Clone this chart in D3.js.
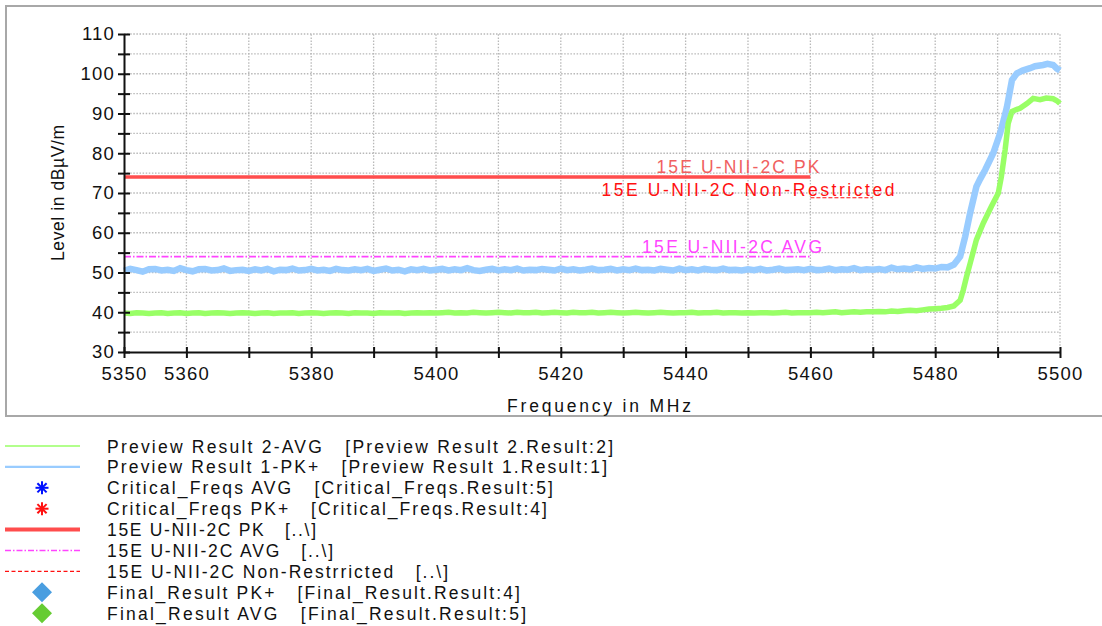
<!DOCTYPE html>
<html>
<head>
<meta charset="utf-8">
<script src="https://cdn.jsdelivr.net/npm/d3@7"></script>
<style>
  html, body { margin: 0; padding: 0; background: #fff; }
  svg { display: block; font-family: "Liberation Sans", Arial, sans-serif; }
  text { white-space: pre; }
</style>
</head>
<body>
<svg id="chart" width="1102" height="626"></svg>
<script>
// ---------- DATA ----------
const xTickValues = [5350,5360,5370,5380,5390,5400,5410,5420,5430,5440,5450,5460,5470,5480,5490,5500];
const xTickLabels = [5350,5360,5380,5400,5420,5440,5460,5480,5500];
const yTickValues = [30,35,40,45,50,55,60,65,70,75,80,85,90,95,100,105,110];
const yTickLabels = [30,40,50,60,70,80,90,100,110];

// Preview Result 1-PK+ (blue)
const pkFreq = [
  5350,5351,5352,5353,5354,5355,5356,5357,5358,5359,
  5360,5361,5362,5363,5364,5365,5366,5367,5368,5369,
  5370,5371,5372,5373,5374,5375,5376,5377,5378,5379,
  5380,5381,5382,5383,5384,5385,5386,5387,5388,5389,
  5390,5391,5392,5393,5394,5395,5396,5397,5398,5399,
  5400,5401,5402,5403,5404,5405,5406,5407,5408,5409,
  5410,5411,5412,5413,5414,5415,5416,5417,5418,5419,
  5420,5421,5422,5423,5424,5425,5426,5427,5428,5429,
  5430,5431,5432,5433,5434,5435,5436,5437,5438,5439,
  5440,5441,5442,5443,5444,5445,5446,5447,5448,5449,
  5450,5451,5452,5453,5454,5455,5456,5457,5458,5459,
  5460,5461,5462,5463,5464,5465,5466,5467,5468,5469,
  5470,5471,5472,5473,5474,5475,5476,5477,5478,5479,
  5480,5481,5482,5483,
  5484,5484.8,5485.6,5486.6,5487.2,5488,5489.3,5490.4,5491,5491.5,
  5492.3,5493.1,5494,5495.2,5496,5497.3,5498,5498.9,5499.5,5500
];
const pkLevel = [
  50.4,50.9,50.6,50.2,50.8,50.9,50.5,50.7,50.4,51.1,
  50.6,50.3,50.8,50.9,50.5,50.6,51.0,50.4,50.6,50.7,
  50.4,50.8,50.5,50.9,50.3,50.7,50.6,51.0,50.5,50.6,
  50.9,50.5,50.7,50.4,50.9,50.6,50.5,50.8,50.6,50.9,
  50.4,50.7,51.0,50.5,50.7,50.3,50.8,50.6,50.9,50.5,
  50.7,50.9,50.5,50.8,50.6,51.1,50.6,50.4,50.7,50.9,
  50.5,50.8,50.6,51.0,50.5,50.7,50.6,50.9,50.7,50.5,
  51.0,50.6,50.8,50.5,50.7,51.0,50.6,50.7,50.9,50.5,
  50.8,50.6,51.0,50.6,50.7,50.5,50.9,50.7,50.5,51.0,
  50.6,50.8,50.5,50.9,50.7,50.6,51.0,50.6,50.7,50.5,
  50.8,50.6,50.9,50.5,50.7,51.0,50.6,50.7,50.8,50.6,
  50.9,50.6,50.7,51.0,50.6,50.8,50.7,51.1,50.6,50.8,
  50.7,50.9,50.6,51.2,50.8,51.0,50.8,51.3,50.9,51.1,
  51.0,51.4,51.3,52.0,
  54.0,59.0,65.0,71.6,73.5,75.8,80.0,85.0,88.5,91.7,
  98.4,100.1,100.8,101.4,101.9,102.2,102.5,102.2,101.3,100.8
];

// Preview Result 2-AVG (green)
const avgFreq = [
  5350,5351,5352,5353,5354,5355,5356,5357,5358,5359,
  5360,5361,5362,5363,5364,5365,5366,5367,5368,5369,
  5370,5371,5372,5373,5374,5375,5376,5377,5378,5379,
  5380,5381,5382,5383,5384,5385,5386,5387,5388,5389,
  5390,5391,5392,5393,5394,5395,5396,5397,5398,5399,
  5400,5401,5402,5403,5404,5405,5406,5407,5408,5409,
  5410,5411,5412,5413,5414,5415,5416,5417,5418,5419,
  5420,5421,5422,5423,5424,5425,5426,5427,5428,5429,
  5430,5431,5432,5433,5434,5435,5436,5437,5438,5439,
  5440,5441,5442,5443,5444,5445,5446,5447,5448,5449,
  5450,5451,5452,5453,5454,5455,5456,5457,5458,5459,
  5460,5461,5462,5463,5464,5465,5466,5467,5468,5469,
  5470,5471,5472,5473,5474,5475,5476,5477,5478,5479,
  5480,5481,5482,5483,
  5484,5484.5,5485,5485.6,5486.6,5487.7,5489,5490.1,5490.6,5491.2,
  5491.7,5492.3,5493,5493.6,5494.7,5495.7,5496.8,5497.8,5498.9,5499.5,5500
];
const avgLevel = [
  39.8,39.7,39.9,39.8,39.7,39.8,39.9,39.7,39.8,39.9,
  39.7,39.8,39.9,39.7,39.8,39.9,39.8,39.7,39.8,39.9,
  39.8,39.7,39.8,39.9,39.7,39.8,39.8,39.9,39.7,39.8,
  39.9,39.8,39.7,39.8,39.9,39.8,39.7,39.9,39.8,39.8,
  39.7,39.9,39.8,39.8,39.9,39.7,39.8,39.9,39.8,39.9,
  39.8,39.9,40.0,39.8,39.9,39.8,40.0,39.9,39.8,39.9,
  40.0,39.9,39.8,40.0,39.9,39.9,40.0,39.8,39.9,40.0,
  39.9,39.8,40.0,39.9,39.9,40.0,39.8,39.9,40.0,39.9,
  39.8,39.9,40.0,39.9,39.8,39.9,40.0,39.9,39.8,39.9,
  39.9,40.0,39.8,39.9,39.9,40.0,39.8,39.9,39.9,39.8,
  39.9,39.8,39.9,39.9,39.8,39.9,40.0,39.8,39.9,39.9,
  39.9,40.0,39.9,40.0,40.1,39.9,40.0,40.1,40.0,40.1,
  40.1,40.2,40.1,40.3,40.2,40.4,40.5,40.4,40.6,40.8,
  40.9,41.0,41.2,41.6,
  43.0,45.6,48.8,52.3,58.2,62.4,66.6,69.9,74.1,80.8,
  87.5,90.5,91.0,91.3,92.5,93.8,93.5,93.9,93.7,93.2,92.5
];

// Limit lines
const limitPkFreq = [5350, 5460];
const limitPkLevel = [74, 74];
const limitAvgFreq = [5350, 5460];
const limitAvgLevel = [54, 54];
const limitNrFreq = [5460, 5470];
const limitNrLevel = [68.8, 68.8];

const limitLabels = ["15E U-NII-2C PK", "15E U-NII-2C Non-Restricted", "15E U-NII-2C AVG"];

const legendLabels = [
  "Preview Result 2-AVG   [Preview Result 2.Result:2]",
  "Preview Result 1-PK+   [Preview Result 1.Result:1]",
  "Critical_Freqs AVG   [Critical_Freqs.Result:5]",
  "Critical_Freqs PK+   [Critical_Freqs.Result:4]",
  "15E U-NII-2C PK   [..\\]",
  "15E U-NII-2C AVG   [..\\]",
  "15E U-NII-2C Non-Restrricted   [..\\]",
  "Final_Result PK+   [Final_Result.Result:4]",
  "Final_Result AVG   [Final_Result.Result:5]"
];

// ---------- STYLE ----------
const C = {
  pk: "#99ccff", avg: "#99ff66", limPk: "#ff4d4d", limAvg: "#ff44ff", limNr: "#ff1010",
  grid: "#b8b8b8", axis: "#111"
};

const svg = d3.select("#chart");
svg.append("rect").attr("width", 1102).attr("height", 626).attr("fill", "#fff");

// frame
svg.append("rect").attr("x", 6).attr("y", 6).attr("width", 1120).attr("height", 410)
  .attr("fill", "none").attr("stroke", "#a8a8a8").attr("stroke-width", 2);

const x = d3.scaleLinear().domain([5350, 5500]).range([124, 1060]);
const y = d3.scaleLinear().domain([30, 110]).range([352, 34]);

// grid
const g = svg.append("g");
g.selectAll("line.h").data(yTickValues.filter(v => v > 30)).join("line")
  .attr("x1", x(5350)).attr("x2", x(5500)).attr("y1", d => y(d)).attr("y2", d => y(d))
  .attr("stroke", C.grid).attr("stroke-width", 1.3).attr("stroke-dasharray", "1.5,1.6");
g.selectAll("line.v").data(xTickValues.filter(v => v > 5350)).join("line")
  .attr("y1", y(30)).attr("y2", y(110)).attr("x1", d => x(d)).attr("x2", d => x(d))
  .attr("stroke", C.grid).attr("stroke-width", 1.3).attr("stroke-dasharray", "1.5,1.6");

// data lines
function drawLine(fr, lv, color, width, dash, join) {
  const pts = fr.map((f, i) => [f, lv[i]]);
  const p = svg.append("path").datum(pts)
    .attr("d", d3.line().x(d => x(d[0])).y(d => y(d[1])))
    .attr("fill", "none").attr("stroke", color).attr("stroke-width", width)
    .attr("stroke-linejoin", join || "round");
  if (dash) p.attr("stroke-dasharray", dash);
  return p;
}
drawLine(pkFreq, pkLevel, C.pk, 6.5, null, "miter");
drawLine(avgFreq, avgLevel, C.avg, 5.5, null, "miter");

drawLine(limitAvgFreq, limitAvgLevel, C.limAvg, 1.6, "7,2,1.5,2");
drawLine(limitPkFreq, limitPkLevel, C.limPk, 3.5);
drawLine(limitNrFreq, limitNrLevel, C.limNr, 1.2, "4,2");

// limit labels
svg.append("text").attr("x", 738).attr("y", 173).attr("text-anchor", "middle")
  .attr("font-size", 17.5).attr("fill", "#f06060")
  .attr("textLength", 163).attr("lengthAdjust", "spacing").text(limitLabels[0]);
svg.append("text").attr("x", 748).attr("y", 196).attr("text-anchor", "middle")
  .attr("font-size", 17.5).attr("fill", "#ff1010")
  .attr("textLength", 293).attr("lengthAdjust", "spacing").text(limitLabels[1]);
svg.append("text").attr("x", 732).attr("y", 253).attr("text-anchor", "middle")
  .attr("font-size", 17.5).attr("fill", "#ff44ff")
  .attr("textLength", 180).attr("lengthAdjust", "spacing").text(limitLabels[2]);

// axes
const yAxis = d3.axisLeft(y).tickValues(yTickValues).tickSizeInner(6).tickSizeOuter(0).tickPadding(3)
  .tickFormat(d => yTickLabels.includes(d) ? d : "");
const ya = svg.append("g").attr("transform", `translate(${x(5350)},0)`).call(yAxis);
ya.selectAll(".tick line").attr("x1", 6).attr("stroke", C.axis).attr("stroke-width", 2);
ya.select(".domain").attr("stroke", C.axis).attr("stroke-width", 2);
ya.selectAll("text").attr("font-size", 18.5).attr("fill", "#111").attr("letter-spacing", 1.2)
  .attr("font-family", "'Liberation Sans', Arial, sans-serif");

const xAxis = d3.axisBottom(x).tickValues(xTickValues).tickSizeInner(6).tickSizeOuter(0).tickPadding(9)
  .tickFormat(d => xTickLabels.includes(d) ? d : "");
const xa = svg.append("g").attr("transform", `translate(0,${y(30)})`).call(xAxis);
xa.selectAll(".tick line").attr("y1", -5).attr("stroke", C.axis).attr("stroke-width", 2);
xa.select(".domain").attr("stroke", C.axis).attr("stroke-width", 2);
xa.selectAll("text").attr("font-size", 18.5).attr("fill", "#111").attr("letter-spacing", 1.2)
  .attr("font-family", "'Liberation Sans', Arial, sans-serif");

// axis titles
svg.append("text").attr("transform", "translate(64,193) rotate(-90)").attr("text-anchor", "middle")
  .attr("font-size", 17.5).attr("fill", "#111").attr("textLength", 136).attr("lengthAdjust", "spacing")
  .text("Level in dBµV/m");
svg.append("text").attr("x", 599).attr("y", 412).attr("text-anchor", "middle")
  .attr("font-size", 17.5).attr("fill", "#111").attr("textLength", 184).attr("lengthAdjust", "spacing")
  .text("Frequency in MHz");

// legend
const legendEnds = [613, 607, 553, 547, 316, 333, 448, 520, 526];
const legendTypes = [
  {t: "line", c: C.avg, w: 1.5},
  {t: "line", c: C.pk, w: 2.2},
  {t: "ast", c: "#0010ff"},
  {t: "ast", c: "#ff1010"},
  {t: "line", c: C.limPk, w: 4},
  {t: "line", c: C.limAvg, w: 1.3, dash: "6,2,1.5,2"},
  {t: "line", c: C.limNr, w: 1.3, dash: "4,2.5"},
  {t: "dia", c: "#4a9ee0"},
  {t: "dia", c: "#66cc33"}
];
const lg = svg.append("g");
legendLabels.forEach((lab, i) => {
  const cy = 446 + i * 20.9;
  const s = legendTypes[i];
  if (s.t === "line") {
    const l = lg.append("line").attr("x1", 5).attr("x2", 80).attr("y1", cy).attr("y2", cy)
      .attr("stroke", s.c).attr("stroke-width", s.w);
    if (s.dash) l.attr("stroke-dasharray", s.dash);
  } else if (s.t === "ast") {
    const r = 6.5;
    [0, 45, 90, 135].forEach(a => {
      const rad = a * Math.PI / 180;
      lg.append("line")
        .attr("x1", 42 - r * Math.cos(rad)).attr("y1", cy - r * Math.sin(rad))
        .attr("x2", 42 + r * Math.cos(rad)).attr("y2", cy + r * Math.sin(rad))
        .attr("stroke", s.c).attr("stroke-width", 2);
    });
  } else {
    lg.append("path").attr("d", d3.symbol(d3.symbolSquare, 200)())
      .attr("transform", `translate(42,${cy}) rotate(45)`).attr("fill", s.c);
  }
  lg.append("text").attr("x", 107).attr("y", cy + 6.5).attr("font-size", 17.5).attr("fill", "#111")
    .attr("textLength", legendEnds[i] - 107).attr("lengthAdjust", "spacing").text(lab);
});
</script>
</body>
</html>
